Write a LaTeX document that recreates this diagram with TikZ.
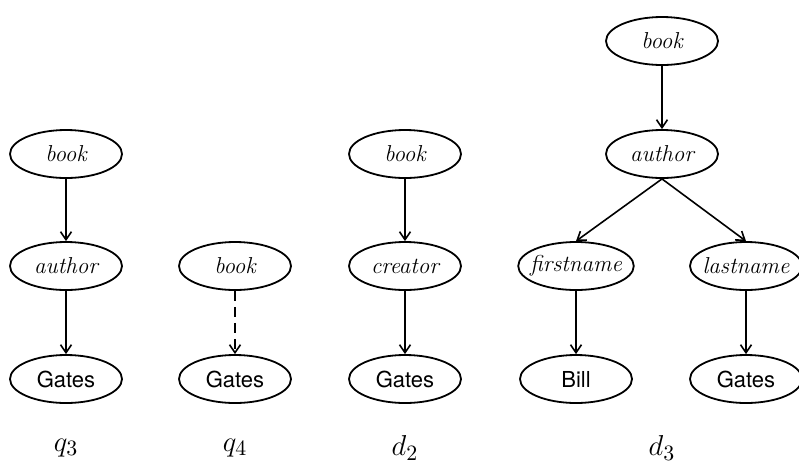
\documentclass[tikz,border=0pt]{standalone}
\usepackage{amsmath}
\usepackage{fontspec}
\setsansfont{TeX Gyre Heros}
\usepackage{tikz}
\usetikzlibrary{shapes,arrows,arrows.meta}
\tikzstyle{tag} = [ellipse, draw, line width=0.9pt, minimum width=56pt, minimum height=24pt, inner xsep=-2.5pt, inner ysep=0pt, font=\fontsize{11.5}{13}\selectfont\itshape]
\tikzstyle{val} = [tag, font=\fontsize{11}{13}\selectfont\sffamily]
\tikzstyle{edge} = [-{Straight Barb[length=4pt,width=5.5pt]}, line width=0.8pt]
\tikzstyle{lbl} = [font=\fontsize{15}{18}\selectfont]

\begin{document}
\begin{tikzpicture}[x=0.5pt,y=-0.5pt]
\useasboundingbox (0,0) rectangle (799,462);

% q3
	\node[tag] (qbook) at (66,154) {book};
	\node[tag] (qauthor) at (66,266) {author};
	\node[val] (qgates) at (66,379) {Gates};
	\draw[edge] (qbook) -- (qauthor);
	\draw[edge] (qauthor) -- (qgates);
	\node[lbl] (qthree) at (66,448) {$q_3$};

% q4
	\node[tag] (pbook) at (235,266) {book};
	\node[val] (pgates) at (235,379) {Gates};
	\draw[edge, dash pattern=on 5pt off 3pt] (pbook) -- (pgates);
	\node[lbl] (qfour) at (235,448) {$q_4$};

% d2
	\node[tag] (cbook) at (405,154) {book};
	\node[tag] (ccreator) at (405,266) {creator};
	\node[val] (cgates) at (405,379) {Gates};
	\draw[edge] (cbook) -- (ccreator);
	\draw[edge] (ccreator) -- (cgates);
	\node[lbl] (dtwo) at (405,448) {$d_2$};

% d3
	\node[tag] (dbook) at (662,41) {book};
	\node[tag] (dauthor) at (662,154) {author};
	\node[tag] (dfirst) at (576,266) {firstname};
	\node[tag] (dlast) at (746,266) {lastname};
	\node[val] (dbill) at (576,379) {Bill};
	\node[val] (dgates) at (746,379) {Gates};
	\draw[edge] (dbook) -- (dauthor);
	\draw[edge] (dauthor.south) -- (dfirst.north);
	\draw[edge] (dauthor.south) -- (dlast.north);
	\draw[edge] (dfirst) -- (dbill);
	\draw[edge] (dlast) -- (dgates);
	\node[lbl] (dthree) at (662,448) {$d_3$};
\end{tikzpicture}
\end{document}
